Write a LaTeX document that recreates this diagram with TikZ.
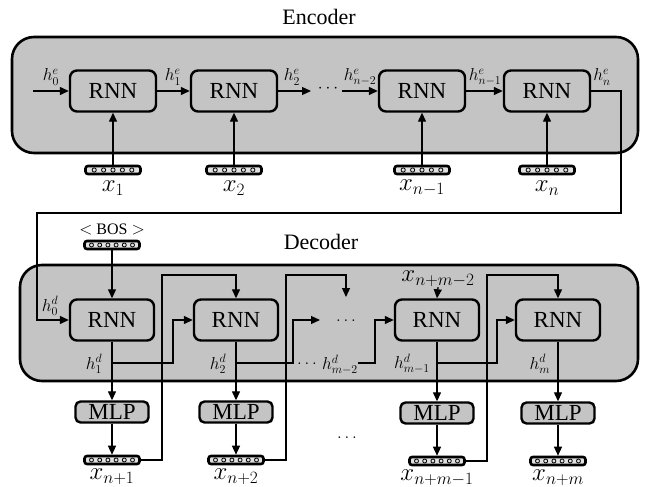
\documentclass[tikz,border=0pt]{standalone}
\usepackage{fontspec}
\setmainfont{Liberation Serif}
\usetikzlibrary{arrows.meta}
\definecolor{boxgray}{RGB}{196,196,196}
\definecolor{veclight}{RGB}{225,225,225}
\begin{document}
\begin{tikzpicture}[x=1pt,y=-1pt,
  bigbox/.style={draw, line width=2.6pt, fill=boxgray, rounded corners=22pt},
  rnn/.style={draw, line width=2.4pt, fill=boxgray, rounded corners=7pt, minimum width=84pt, minimum height=41pt, inner sep=0pt, font=\fontsize{23}{25}\selectfont},
  mlp/.style={draw, line width=2.4pt, fill=boxgray, rounded corners=5pt, minimum width=73pt, minimum height=21pt, inner sep=0pt, font=\fontsize{23}{25}\selectfont},
  vecbase/.style={draw=black, fill=veclight, line width=2.6pt, rounded corners=2.5pt, minimum width=55pt, minimum height=8pt, inner sep=0pt},
  vecfive/.style={vecbase, path picture={\foreach \k in {-2,...,2}{\draw[black, line width=0.8pt] ([xshift=\k*9.4pt]path picture bounding box.center) circle (2.1pt);}}},
  vecsix/.style={vecbase, path picture={\foreach \k in {-2.5,-1.5,...,2.5}{\draw[black, line width=0.8pt] ([xshift=\k*8.2pt]path picture bounding box.center) circle (2.0pt);}}},
  conn/.style={line width=1.3pt, -{Triangle[length=9pt,width=8pt]}},
  plain/.style={line width=1.3pt},
  hlab/.style={font=\fontsize{18}{20}\selectfont, inner sep=0pt},
  xlab/.style={font=\fontsize{25}{27}\selectfont, inner sep=0pt},
  title/.style={font=\fontsize{22}{24}\selectfont, inner sep=0pt}
]
\useasboundingbox (0,0) rectangle (645,487);
\fill[white] (0,0) rectangle (645,487);

% ---------------- Encoder ----------------
\node[title] (enctitle) at (319,17) {Encoder};
\draw[bigbox] (12,37) rectangle (638,153);

\node[rnn, minimum width=86pt] (e1) at (113,91) {RNN};
\node[rnn, minimum width=86pt] (e2) at (234,91) {RNN};
\node[rnn, minimum width=86pt] (e3) at (422,91) {RNN};
\node[rnn, minimum width=86pt] (e4) at (547,91) {RNN};

\node[vecfive] (ev1) at (113,170) {};
\node[vecfive] (ev2) at (234,170) {};
\node[vecfive] (ev3) at (422,170) {};
\node[vecfive] (ev4) at (547,170) {};

\node[xlab] (ex1) at (113,188) {$x_1$};
\node[xlab] (ex2) at (234,188) {$x_2$};
\node[xlab] (ex3) at (422,188) {$x_{n-1}$};
\node[xlab] (ex4) at (547,188) {$x_n$};

\foreach \i in {1,2,3,4}{\draw[conn] (ev\i.north) -- (e\i.south);}

\coordinate (h0s) at (33,91);
\draw[conn] (h0s) -- (e1.west);
\node[hlab] (lh0) at (51,77) {$h_0^e$};
\draw[conn] (e1.east) -- (e2.west);
\node[hlab] (lh1) at (173,77) {$h_1^e$};
\coordinate (h2e) at (311,91);
\draw[conn] (e2.east) -- (h2e);
\node[hlab] (lh2) at (292,77) {$h_2^e$};
\node[hlab] (edots) at (328,89) {$\cdots$};
\coordinate (hn2s) at (342,91);
\draw[conn] (hn2s) -- (e3.west);
\node[hlab] (lhn2) at (360,77) {$h_{n-2}^e$};
\draw[conn] (e3.east) -- (e4.west);
\node[hlab] (lhn1) at (485,77) {$h_{n-1}^e$};
\node[hlab] (lhn) at (602,77) {$h_n^e$};

% ---------------- Decoder ----------------
\node[title] (dectitle) at (321,242) {Decoder};
\draw[bigbox] (20,265) rectangle (638,381);

\node[font=\fontsize{16}{18}\selectfont, inner sep=0pt] (bosl) at (112,229) {$<$ BOS $>$};
\node[vecsix] (bos) at (112,245) {};

\node[rnn] (d1) at (112,320) {RNN};
\node[rnn] (d2) at (236,320) {RNN};
\node[rnn] (d3) at (437,320) {RNN};
\node[rnn] (d4) at (558,320) {RNN};

\node[mlp] (m1) at (112,412) {MLP};
\node[mlp] (m2) at (236,412) {MLP};
\node[mlp] (m3) at (437,413) {MLP};
\node[mlp] (m4) at (558,413) {MLP};

\node[vecsix] (o1) at (112,460) {};
\node[vecsix] (o2) at (236,460) {};
\node[vecsix] (o3) at (437,461) {};
\node[vecsix] (o4) at (558,461) {};

\node[xlab] (ox1) at (112,477) {$x_{n+1}$};
\node[xlab] (ox2) at (236,477) {$x_{n+2}$};
\node[xlab] (ox3) at (437,478) {$x_{n+m-1}$};
\node[xlab] (ox4) at (558,478) {$x_{n+m}$};

% encoder -> decoder
\coordinate (c1) at (621,91);
\coordinate (c2) at (621,213);
\coordinate (c3) at (37,213);
\coordinate (c4) at (37,320);
\draw[conn] (e4.east) -- (c1) -- (c2) -- (c3) -- (c4) -- (d1.west);
\node[hlab] (lh0d) at (50,306) {$h_0^d$};

\draw[conn] (bos.south) -- (d1.north);

\foreach \i in {1,2,3,4}{
  \draw[conn] (d\i.south) -- (m\i.north);
  \draw[conn] (m\i.south) -- (o\i.north);
}

% hidden-state branches
\coordinate (b1) at (112,363);
\coordinate (b1t) at (173,320);
\draw[conn] (b1) -| (b1t) -- (d2.west);
\node[hlab] (lh1d) at (94,364) {$h_1^d$};

\coordinate (b2) at (236,363);
\coordinate (b2t) at (293,320);
\coordinate (b2e) at (320,320);
\draw[conn] (b2) -| (b2t) -- (b2e);
\node[hlab] (lh2d) at (218,364) {$h_2^d$};

\node[hlab] (ddots1) at (346,321) {$\ldots$};
\node[hlab] (ddots2) at (307,364) {$\ldots$};
\node[hlab] (lhm2) at (340,365) {$h_{m-2}^d$};
\coordinate (b3s) at (358,363);
\coordinate (b3t) at (375,320);
\draw[conn] (b3s) -| (b3t) -- (d3.west);

\coordinate (b4) at (437,363);
\coordinate (b4t) at (497,320);
\draw[conn] (b4) -| (b4t) -- (d4.west);
\node[hlab] (lhm1) at (412,364) {$h_{m-1}^d$};
\node[hlab] (lhm) at (540,364) {$h_m^d$};

% feedback from outputs
\coordinate (f1) at (162,275);
\draw[conn] (o1.east) -| (f1) -| (d2.north);
\coordinate (f2) at (286,275);
\coordinate (f2e) at (346,297);
\draw[conn] (o2.east) -| (f2) -| (f2e);
\coordinate (f3) at (487,275);
\draw[conn] (o3.east) -| (f3) -| (d4.north);

\node[xlab] (xm2) at (438,279) {$x_{n+m-2}$};
\draw[conn] (xm2.south) -- (d3.north);

\node[hlab] (bdots) at (347,438) {$\ldots$};
\end{tikzpicture}
\end{document}
